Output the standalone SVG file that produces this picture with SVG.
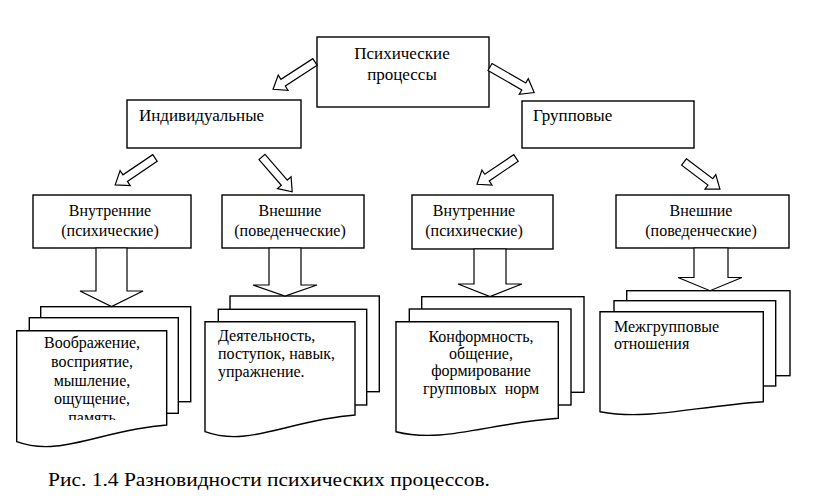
<svg xmlns="http://www.w3.org/2000/svg" width="825" height="499" viewBox="0 0 825 499">
<style>
.box{fill:#fff;stroke:#000;stroke-width:1.4}
.pg{fill:#fff;stroke:#000;stroke-width:1.4}
.ar{fill:#fff;stroke:#000;stroke-width:1.2;stroke-linejoin:miter}
.t{font-family:"Liberation Serif","DejaVu Serif","Times New Roman",serif;font-size:16px;fill:#000}
.c{text-anchor:middle}
.big{font-size:17px}
</style>
<defs>
<clipPath id="clip1"><rect x="0" y="0" width="825" height="420"/></clipPath>
</defs>
<rect width="825" height="499" fill="#fff"/>

<g id="n-top">
<rect class="box" x="317" y="37" width="172" height="70"/>
<text class="t c big" x="402" y="59">Психические</text>
<text class="t c big" x="402" y="80">процессы</text>
</g>
<g id="n-ind">
<rect class="box" x="127" y="100" width="174" height="48"/>
<text class="t big" x="139" y="121">Индивидуальные</text>
</g>
<g id="n-grp">
<rect class="box" x="522" y="101" width="172" height="47"/>
<text class="t big" x="533" y="121">Групповые</text>
</g>
<g id="n-ind-in">
<rect class="box" x="33" y="195" width="158" height="53"/>
<text class="t c" x="110" y="216">Внутренние</text>
<text class="t c" x="110" y="236">(психические)</text>
</g>
<g id="n-ind-out">
<rect class="box" x="222" y="195" width="142" height="53"/>
<text class="t c" x="290" y="216">Внешние</text>
<text class="t c" x="290" y="236">(поведенческие)</text>
</g>
<g id="n-grp-in">
<rect class="box" x="412" y="195" width="141" height="54"/>
<text class="t c" x="474" y="216">Внутренние</text>
<text class="t c" x="474" y="236">(психические)</text>
</g>
<g id="n-grp-out">
<rect class="box" x="616" y="195" width="173" height="53"/>
<text class="t c" x="701" y="216">Внешние</text>
<text class="t c" x="701" y="236">(поведенческие)</text>
</g>

<g id="d-ind-in">
<rect class="pg" x="40.7" y="306.7" width="150" height="95"/>
<rect class="pg" x="29.3" y="317.7" width="149" height="95.6"/>
<path class="pg" d="M16.7,330.7 H166.7 V425 C100.7,430 60.2,457.7 16.7,441.7 Z"/>
<text class="t c" x="92" y="348">Воображение,</text>
<text class="t c" x="92" y="367">восприятие,</text>
<text class="t c" x="92" y="385.5">мышление,</text>
<text class="t c" x="92" y="404">ощущение,</text>
<text class="t c" x="92" y="423" clip-path="url(#clip1)">память</text>
</g>
<g id="d-ind-out">
<rect class="pg" x="230" y="296" width="149.3" height="95.7"/>
<rect class="pg" x="218.3" y="309.3" width="148.4" height="95.7"/>
<path class="pg" d="M205,321.7 H355 V415 C289,420 248.5,447.7 205,431.7 Z"/>
<text class="t" x="218" y="341">Деятельность,</text>
<text class="t" x="218" y="359">поступок, навык,</text>
<text class="t" x="218" y="377">упражнение.</text>
</g>
<g id="d-grp-in">
<rect class="pg" x="421.7" y="296.7" width="162.3" height="95.6"/>
<rect class="pg" x="409.3" y="309" width="161.7" height="96"/>
<path class="pg" d="M396,321.7 H558.3 V418.3 C486.9,423.3 443,443.7 396,431.7 Z"/>
<text class="t c" x="481" y="342">Конформность,</text>
<text class="t c" x="481" y="359">общение,</text>
<text class="t c" x="481" y="376">формирование</text>
<text class="t c" x="481" y="393.5" xml:space="preserve">групповых  норм</text>
</g>
<g id="d-grp-out">
<rect class="pg" x="626.7" y="290.7" width="163.3" height="85"/>
<rect class="pg" x="614" y="300.7" width="161.7" height="85.3"/>
<path class="pg" d="M600,311.7 H763.3 V401.7 C691.5,406.7 647,420.7 600,411.7 Z"/>
<text class="t" x="614" y="332">Межгрупповые</text>
<text class="t" x="614" y="348.5">отношения</text>
</g>

<g id="connectors">
<path class="ar" transform="translate(315,62) rotate(147)" d="M0,-4 H38 V-9 L50,0 L38,9 V4 H0 Z"/>
<path class="ar" transform="translate(490,67) rotate(30)" d="M0,-4 H39 V-9 L51,0 L39,9 V4 H0 Z"/>
<path class="ar" transform="translate(155,158) rotate(146)" d="M0,-4 H36 V-9 L48,0 L36,9 V4 H0 Z"/>
<path class="ar" transform="translate(262,157) rotate(49)" d="M0,-4 H34 V-9 L46,0 L34,9 V4 H0 Z"/>
<path class="ar" transform="translate(516,158) rotate(146)" d="M0,-4 H35 V-9 L47,0 L35,9 V4 H0 Z"/>
<path class="ar" transform="translate(684,162) rotate(37)" d="M0,-4 H33 V-9 L45,0 L33,9 V4 H0 Z"/>
<polygon class="ar" points="96,248 96,291 80,291 111.5,306.5 143,291 127,291 127,248"/>
<polygon class="ar" points="269,248 269,285 253,285 285,296 317,285 301,285 301,248"/>
<polygon class="ar" points="474,249 474,284 458,284 490,296.5 522,284 506,284 506,249"/>
<polygon class="ar" points="694,248 694,277.5 678,277.5 710,290.7 742,277.5 728,277.5 728,248"/>
</g>

<text class="t" x="48" y="486" style="font-size:19px" textLength="442" lengthAdjust="spacingAndGlyphs">Рис. 1.4 Разновидности психических процессов.</text>
</svg>
